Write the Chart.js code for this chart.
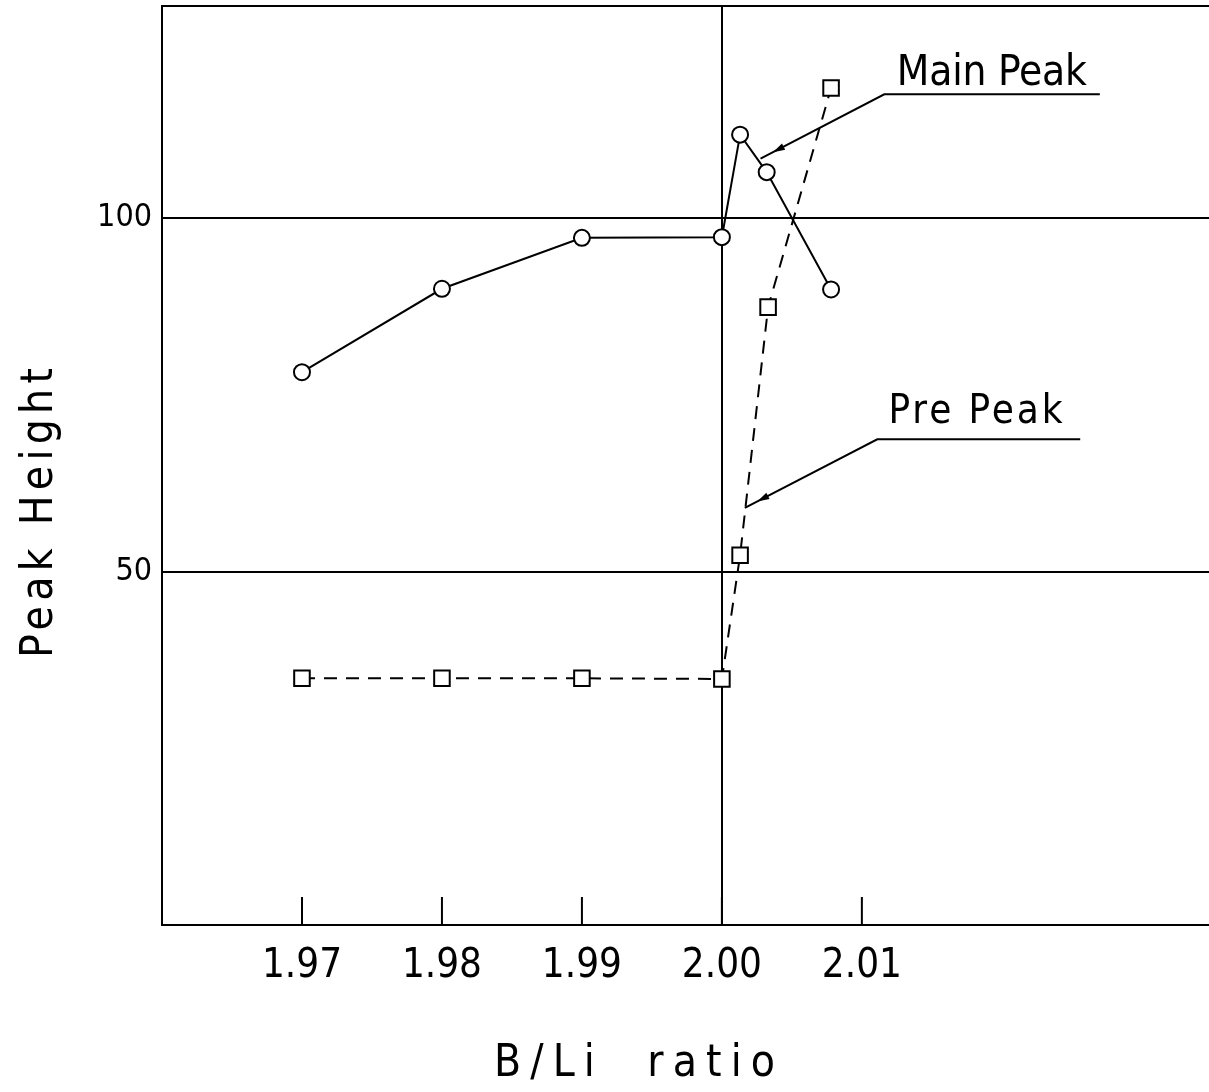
<!DOCTYPE html>
<html>
<head>
<meta charset="utf-8">
<script src="https://cdn.jsdelivr.net/npm/chart.js@4.4.1/dist/chart.umd.min.js"></script>
<style>
  html, body { margin: 0; padding: 0; background: #fff; }
  #box { width: 1209px; height: 1092px; position: relative; }
</style>
</head>
<body>
<div id="box"><canvas id="grafico"></canvas></div>
<script>
// B/Li ratio vs peak height
const ratioMain = [1.97, 1.98, 1.99, 2.00, 2.0013, 2.0032, 2.0078]
const heightMain = [78.2, 90.0, 97.2, 97.3, 111.8, 106.5, 89.9]
const ratioPre = [1.97, 1.98, 1.99, 2.00, 2.0013, 2.0033, 2.0078]
const heightPre = [34.9, 34.9, 34.9, 34.8, 52.3, 87.4, 118.4]
const xTicks = [1.97, 1.98, 1.99, 2.00, 2.01]
const yTicks = [50, 100]

// leader notes, in data units (tip of arrow, elbow, end of the shelf line, text corner)
const notes = [
    { text: 'Main Peak', tip: [2.00276, 108.4], elbow: [2.0116, 117.5], end: [2.0270, 117.5], at: [2.0125, 120.4], size: 42, width: 190 },
    { text: 'Pre Peak', tip: [2.00164, 59.0], elbow: [2.0111, 68.7], end: [2.0256, 68.7], at: [2.0119, 72.5], size: 40, width: 174 }
]

const FONT = '"Liberation Sans Narrow", "DejaVu Sans Condensed", "Liberation Sans", sans-serif'

function fitText(ctx, text, x, y, width) {
    ctx.letterSpacing = '0px'
    const w = ctx.measureText(text).width
    const sp = (width - w) / Math.max(1, text.length - 1)
    ctx.letterSpacing = sp.toFixed(2) + 'px'
    ctx.fillText(text, x, y)
    ctx.letterSpacing = '0px'
}

const extras = {
    id: 'extras',
    afterDraw(chart) {
        const ctx = chart.ctx
        const xs = chart.scales.x
        const ys = chart.scales.y
        const area = chart.chartArea
        ctx.save()
        ctx.strokeStyle = '#000'
        ctx.fillStyle = '#000'
        ctx.lineWidth = 2
        // inner tick marks on the bottom axis
        xTicks.forEach(t => {
            const px = xs.getPixelForValue(t)
            ctx.beginPath()
            ctx.moveTo(px, area.bottom)
            ctx.lineTo(px, area.bottom - 28)
            ctx.stroke()
        })
        // leader lines with arrow heads
        notes.forEach(n => {
            const tx = xs.getPixelForValue(n.tip[0]), ty = ys.getPixelForValue(n.tip[1])
            const ex = xs.getPixelForValue(n.elbow[0]), ey = ys.getPixelForValue(n.elbow[1])
            const fx = xs.getPixelForValue(n.end[0]), fy = ys.getPixelForValue(n.end[1])
            ctx.lineWidth = 2
            ctx.beginPath()
            ctx.moveTo(fx, fy)
            ctx.lineTo(ex, ey)
            ctx.lineTo(tx, ty)
            ctx.stroke()
            const ang = Math.atan2(ty - ey, tx - ex)
            const hx = tx - Math.cos(ang) * 14, hy = ty - Math.sin(ang) * 14
            ctx.beginPath()
            ctx.moveTo(hx, hy)
            ctx.lineTo(hx - Math.cos(ang) * 12 - Math.sin(ang) * 3.5, hy - Math.sin(ang) * 12 + Math.cos(ang) * 3.5)
            ctx.lineTo(hx - Math.cos(ang) * 12 + Math.sin(ang) * 3.5, hy - Math.sin(ang) * 12 - Math.cos(ang) * 3.5)
            ctx.closePath()
            ctx.fill()
            ctx.font = n.size + 'px ' + FONT
            ctx.textAlign = 'left'
            ctx.textBaseline = 'middle'
            fitText(ctx, n.text, xs.getPixelForValue(n.at[0]), ys.getPixelForValue(n.at[1]), n.width)
        })
        // axis titles
        ctx.font = '44px ' + FONT
        ctx.textAlign = 'left'
        ctx.textBaseline = 'alphabetic'
        fitText(ctx, 'B/Li  ratio', 494, 1076, 281)
        ctx.translate(52, 658)
        ctx.rotate(-Math.PI / 2)
        fitText(ctx, 'Peak Height', 0, 0, 290)
        ctx.restore()
    }
}

window.addEventListener('load', setup)
function setup() {
    const ctx = document.getElementById('grafico').getContext('2d')
    const graph = new Chart(ctx, {
        type: 'scatter',
        data: {
            datasets: [
                {
                    label: 'Main Peak',
                    data: ratioMain.map((r, i) => ({ x: r, y: heightMain[i] })),
                    showLine: true,
                    borderColor: '#000',
                    backgroundColor: '#fff',
                    borderWidth: 2,
                    pointStyle: 'circle',
                    pointRadius: 8,
                    pointBorderWidth: 2,
                    pointBorderColor: '#000',
                    pointBackgroundColor: '#fff',
                },
                {
                    label: 'Pre Peak',
                    data: ratioPre.map((r, i) => ({ x: r, y: heightPre[i] })),
                    showLine: true,
                    borderColor: '#000',
                    backgroundColor: '#fff',
                    borderWidth: 2,
                    borderDash: [13, 9],
                    pointStyle: 'rect',
                    pointRadius: 11,
                    pointBorderWidth: 2,
                    pointBorderColor: '#000',
                    pointBackgroundColor: '#fff',
                }
            ]
        },
        options: {
            responsive: true,
            maintainAspectRatio: false,
            animation: false,
            layout: { autoPadding: false, padding: { top: 6, right: 0, left: 0, bottom: 0 } },
            plugins: {
                legend: { display: false },
                tooltip: { enabled: false },
                title: { display: false }
            },
            scales: {
                x: {
                    type: 'linear',
                    min: 1.96,
                    max: 2.0348,
                    afterBuildTicks: s => { s.ticks = xTicks.map(v => ({ value: v })) },
                    afterFit: s => { s.height = 167; s.paddingLeft = 0; s.paddingRight = 0 },
                    ticks: {
                        color: '#000',
                        padding: 18,
                        font: { family: FONT, size: 40 },
                        maxRotation: 0,
                        callback: v => v.toFixed(2)
                    },
                    grid: {
                        drawTicks: false,
                        lineWidth: 2,
                        color: c => (c.tick && c.tick.value === 2.00) ? '#000' : 'rgba(0,0,0,0)'
                    },
                    border: { display: true, color: '#000', width: 2 }
                },
                y: {
                    min: 0,
                    max: 130,
                    afterBuildTicks: s => { s.ticks = yTicks.concat([130]).map(v => ({ value: v })) },
                    afterFit: s => { s.width = 162; s.paddingTop = 0; s.paddingBottom = 0 },
                    ticks: {
                        color: '#000',
                        padding: 10,
                        font: { family: FONT, size: 32 },
                        callback: v => yTicks.includes(v) ? String(v) : ''
                    },
                    grid: {
                        drawTicks: false,
                        lineWidth: 2,
                        color: '#000'
                    },
                    border: { display: true, color: '#000', width: 2 }
                }
            }
        },
        plugins: [extras]
    })
}
</script>
</body>
</html>
